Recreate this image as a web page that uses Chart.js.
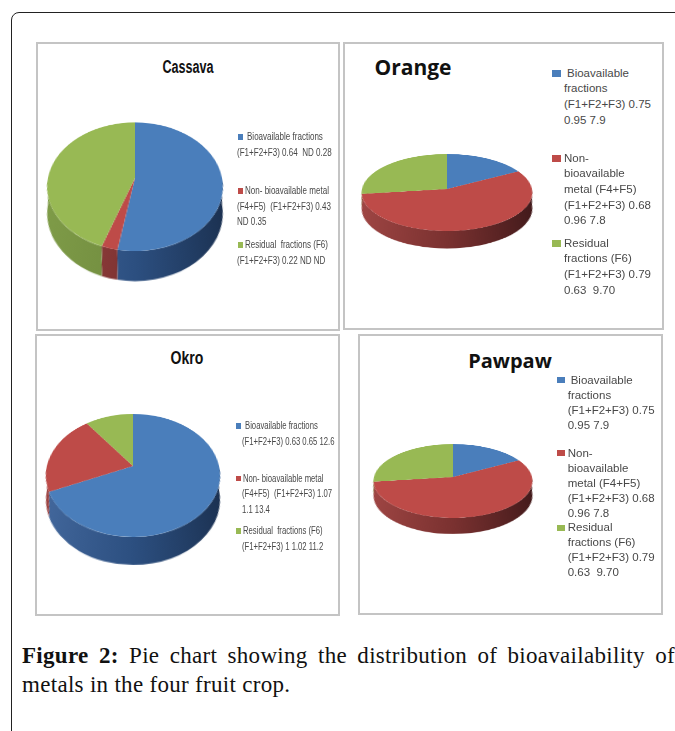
<!DOCTYPE html>
<html>
<head>
<meta charset="utf-8">
<script src="https://cdn.jsdelivr.net/npm/chart.js@4"></script>
<style>
  html, body { margin: 0; padding: 0; background: #fff; }
  #page { position: relative; width: 675px; height: 731px; overflow: hidden; }
  #frame { position: absolute; left: 11px; top: 12px; width: 700px; height: 760px; border: 1.5px solid #222; border-radius: 8px; box-sizing: border-box; }
  .panel { position: absolute; border: 2px solid #c4c4c4; box-sizing: border-box; background: #fff; }
  canvas { position: absolute; }
  .title { position: absolute; color: #111; font-weight: bold; white-space: nowrap; }
  .entry { position: absolute; white-space: pre; color: #484848; transform-origin: 0 0; }
  .marker { position: absolute; }
  #caption { position: absolute; left: 22px; top: 641px; width: 653px; font: 23px/29px "Liberation Serif", serif; letter-spacing: 0.3px; color: #111; }
  #caption div:first-child { text-align: justify; text-align-last: justify; }
</style>
</head>
<body>
<div id="page">
  <div id="frame"></div>
  <div id="caption">
    <div><b>Figure 2:</b> Pie chart showing the distribution of bioavailability of</div>
    <div>metals in the four fruit crop.</div>
  </div>
</div>
<script>
const cassavaValues = [52.8, 2.6, 44.6];
const orangeValues = [17, 56, 27];
const okroValues = [68.4, 21.3, 10.3];
const pawpawValues = [17, 56, 27];

const cassavaLabels = [
    ['Bioavailable fractions', '(F1+F2+F3) 0.64  ND 0.28'],
    ['Non- bioavailable metal', '(F4+F5)  (F1+F2+F3) 0.43', 'ND 0.35'],
    ['Residual  fractions (F6)', '(F1+F2+F3) 0.22 ND ND']
];
const orangeLabels = [
    ['Bioavailable', 'fractions', '(F1+F2+F3) 0.75', '0.95 7.9'],
    ['Non-', 'bioavailable', 'metal (F4+F5)', '(F1+F2+F3) 0.68', '0.96 7.8'],
    ['Residual', 'fractions (F6)', '(F1+F2+F3) 0.79', '0.63  9.70']
];
const okroLabels = [
    ['Bioavailable fractions', '(F1+F2+F3) 0.63 0.65 12.6'],
    ['Non- bioavailable metal', '(F4+F5)  (F1+F2+F3) 1.07', '1.1 13.4'],
    ['Residual  fractions (F6)', '(F1+F2+F3) 1 1.02 11.2']
];
const pawpawLabels = orangeLabels;

const sliceColors = ['#4a7ebb', '#be4b48', '#98b954'];
// side wall shades, left to right
const wallColors = [
    ['#44699e', '#2c4f80', '#1a2f4e'],
    ['#a04644', '#7a3130', '#40191a'],
    ['#7f9c48', '#718c3f', '#4a5c29']
];

// depth is in canvas px along the tilted plane
const panels = [
    { name: 'Cassava', values: cassavaValues, labels: cassavaLabels,
      box: [36, 42, 304, 289], titleAt: [187.5, 67], titleSize: 18, titleFamily: 'Liberation Sans', titleScale: 0.7,
      pie: { x: 135, y: 178, r: 87, tilt: 43.5, persp: 441, depth: 34 },
      font: '11px/15.7px "Liberation Sans"', textScale: 0.73, legendLeft: 237, legendTop: [129, 183, 237],
      indent: [10, 8, 8], marker: [238, 4.5, 5.5] },
    { name: 'Orange', values: orangeValues, labels: orangeLabels,
      box: [343, 42, 321, 288], titleAt: [413, 67], titleSize: 21, titleFamily: 'Open Sans', titleScale: 1,
      pie: { x: 446.7, y: 189, r: 85, tilt: 63.3, persp: 834, depth: 34 },
      font: '11.5px/15.7px "Liberation Sans"', textScale: 1, legendLeft: 564, legendTop: [65.5, 150.5, 235.5],
      indent: [3, 0, 0], marker: [552, 8.5, 6.5] },
    { name: 'Okro', values: okroValues, labels: okroLabels,
      box: [35, 334, 305, 282], titleAt: [187, 358], titleSize: 18, titleFamily: 'Liberation Sans', titleScale: 0.78,
      pie: { x: 133, y: 466, r: 86, tilt: 45.7, persp: 400, depth: 32 },
      font: '11px/15.7px "Liberation Sans"', textScale: 0.7, legendLeft: 241.7, legendTop: [418, 470.5, 523],
      indent: [3, 1, 1], marker: [236, 4.5, 5.5] },
    { name: 'Pawpaw', values: pawpawValues, labels: pawpawLabels,
      box: [358, 334, 305, 281], titleAt: [510, 360], titleSize: 20, titleFamily: 'Open Sans', titleScale: 1,
      pie: { x: 453, y: 477, r: 79, tilt: 62.5, persp: 655, depth: 30 },
      font: '11.5px/15px "Liberation Sans"', textScale: 1, legendLeft: 567.7, legendTop: [372.5, 445.5, 520],
      indent: [3, 0, 0], marker: [557, 7.5, 6] }
];

// draws the extruded rim under the slices, front half of the disc only.
// the lower disc sits nearer the viewer, so it is shrunk to keep the rim upright
const pieWall = {
    id: 'pieWall',
    beforeDatasetsDraw(chart, args, opts) {
        const ctx = chart.ctx;
        chart.getDatasetMeta(0).data.forEach((arc, i) => {
            const p = arc.getProps(['x', 'y', 'startAngle', 'endAngle', 'outerRadius'], true);
            const lo = Math.max(p.startAngle, 0);
            const hi = Math.min(p.endAngle, Math.PI);
            if (hi <= lo) return;
            const grad = ctx.createLinearGradient(p.x - p.outerRadius, 0, p.x + p.outerRadius, 0);
            grad.addColorStop(0, wallColors[i][0]);
            grad.addColorStop(0.5, wallColors[i][1]);
            grad.addColorStop(1, wallColors[i][2]);
            ctx.beginPath();
            ctx.arc(p.x, p.y + opts.depth, p.outerRadius * opts.shrink, lo, hi);
            ctx.arc(p.x, p.y, p.outerRadius, hi, lo, true);
            ctx.closePath();
            ctx.fillStyle = grad;
            ctx.fill();
        });
    }
};

const page = document.getElementById('page');

panels.forEach(panel => {
    const box = document.createElement('div');
    box.className = 'panel';
    box.style.cssText = `left:${panel.box[0]}px;top:${panel.box[1]}px;width:${panel.box[2]}px;height:${panel.box[3]}px`;
    page.appendChild(box);

    const pie = panel.pie;
    const size = 2 * (pie.r + pie.depth);
    const canvas = document.createElement('canvas');
    canvas.width = size;
    canvas.height = size;
    canvas.style.cssText = `left:${pie.x - size / 2}px;top:${pie.y - size / 2}px;width:${size}px;height:${size}px;` +
        `transform:perspective(${pie.persp}px) rotateX(${pie.tilt}deg)`;
    page.appendChild(canvas);

    const shrink = 1 - pie.depth * Math.sin(pie.tilt * Math.PI / 180) / pie.persp;

    new Chart(canvas.getContext('2d'), {
        type: 'pie',
        data: {
            labels: panel.labels.map(l => l.join(' ')),
            datasets: [{ data: panel.values, backgroundColor: sliceColors, borderWidth: 0 }]
        },
        options: {
            responsive: false,
            animation: false,
            layout: { padding: pie.depth },
            plugins: {
                legend: { display: false },
                tooltip: { enabled: false },
                pieWall: { depth: pie.depth, shrink: shrink }
            }
        },
        plugins: [pieWall]
    });

    const title = document.createElement('div');
    title.className = 'title';
    title.textContent = panel.name;
    title.style.cssText = `left:${panel.titleAt[0]}px;top:${panel.titleAt[1]}px;font-family:"${panel.titleFamily}";font-size:${panel.titleSize}px;` +
        `transform:translate(-50%,-50%) scaleX(${panel.titleScale})`;
    page.appendChild(title);

    const lineHeight = parseFloat(panel.font.split('/')[1]);
    panel.labels.forEach((lines, i) => {
        const marker = document.createElement('div');
        marker.className = 'marker';
        marker.style.cssText = `left:${panel.marker[0]}px;top:${panel.legendTop[i] + (lineHeight - panel.marker[2]) / 2}px;` +
            `width:${panel.marker[1]}px;height:${panel.marker[2]}px;background:${sliceColors[i]}`;
        page.appendChild(marker);

        const entry = document.createElement('div');
        entry.className = 'entry';
        entry.style.cssText = `left:${panel.legendLeft}px;top:${panel.legendTop[i]}px;font:${panel.font};transform:scaleX(${panel.textScale})`;
        entry.innerHTML = lines.map((l, k) =>
            k === 0 ? `<span style="margin-left:${panel.indent[i] / panel.textScale}px">${l}</span>` : l).join('\n');
        page.appendChild(entry);
    });
});
</script>
</body>
</html>
